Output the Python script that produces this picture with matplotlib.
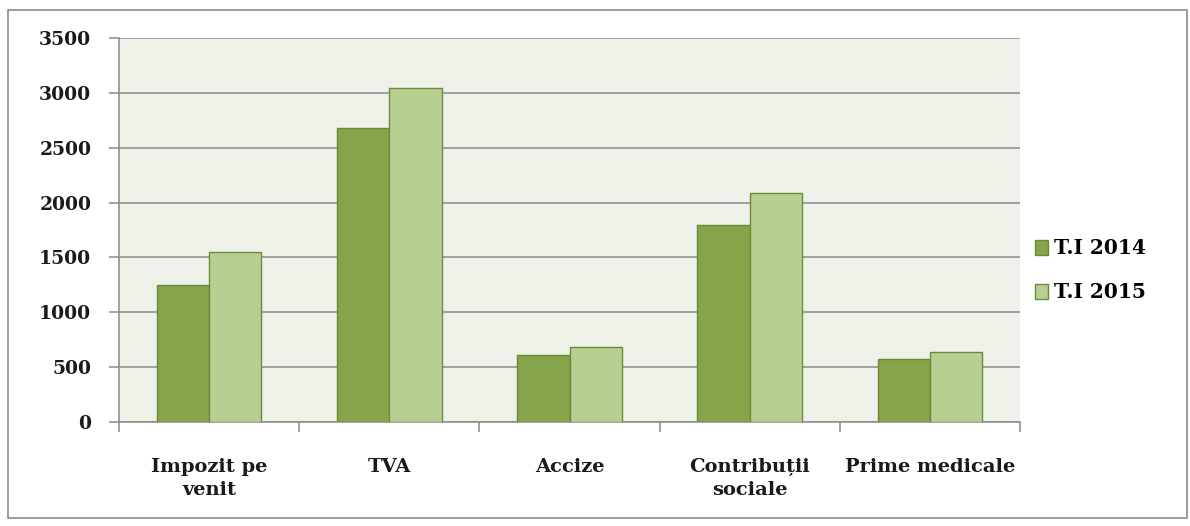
import numpy as np
import matplotlib.pyplot as plt
from matplotlib.patches import Rectangle

categorii = ["Impozit pe\nvenit", "TVA", "Accize", "Contribuții\nsociale", "Prime medicale"]
t1_2014 = [1250, 2680, 610, 1800, 570]
t1_2015 = [1550, 3040, 680, 2090, 640]
serii = ["T.I 2014", "T.I 2015"]

plt.rcParams['font.family'] = ['DejaVu Serif']

fig = plt.figure(figsize=(11.9, 5.26), dpi=100)
fig.patches.append(Rectangle((8/1190, 1 - 518/526), 1179/1190, 508/526,
                             transform=fig.transFigure, fill=False,
                             edgecolor='#8c8c8c', linewidth=1.2))

ax = fig.add_axes([119/1190, 1 - 422/526, 901/1190, 384/526])
ax.set_facecolor('#eef1e7')

x = np.arange(len(categorii))
w = 0.29
ax.bar(x - w/2, t1_2014, w, color='#86a44a', edgecolor='#6d8a3c', linewidth=1, label=serii[0], zorder=3)
ax.bar(x + w/2, t1_2015, w, color='#b8cf92', edgecolor='#6d8a3c', linewidth=1, label=serii[1], zorder=3)

ax.set_ylim(0, 3500)
ax.set_xlim(-0.5, len(categorii) - 0.5)
ax.set_yticks(np.arange(0, 3501, 500))
ax.grid(axis='y', color='#8a8a8a', linewidth=1.1, zorder=1)

ax.set_xticks(np.arange(-0.5, len(categorii)), minor=False)
ax.set_xticklabels([])
ax.set_xticks(x, minor=True)
ax.set_xticklabels(categorii, minor=True, fontsize=14, fontweight='bold', color='#1a1a1a',
                   linespacing=1.35, va='top')
ax.tick_params(axis='x', which='minor', length=0, pad=26)
ax.tick_params(axis='x', which='major', length=7, color='#8a8a8a', width=1.1)
ax.tick_params(axis='y', length=7, color='#8a8a8a', width=1.1, pad=13, labelsize=13.5)
for lab in ax.get_yticklabels():
    lab.set_fontweight('bold')
    lab.set_color('#1a1a1a')

for s in ['top', 'right']:
    ax.spines[s].set_visible(False)
for s in ['left', 'bottom']:
    ax.spines[s].set_color('#8a8a8a')
    ax.spines[s].set_linewidth(1.1)

leg = ax.legend(loc='center left', bbox_to_anchor=(0.997, 0.395), frameon=False,
                prop={'family': 'DejaVu Serif', 'weight': 'bold', 'size': 14.5},
                handlelength=0.6, handleheight=0.8, handletextpad=0.3, labelspacing=1.2)

fig.savefig('out.png', dpi=100, facecolor='white')
